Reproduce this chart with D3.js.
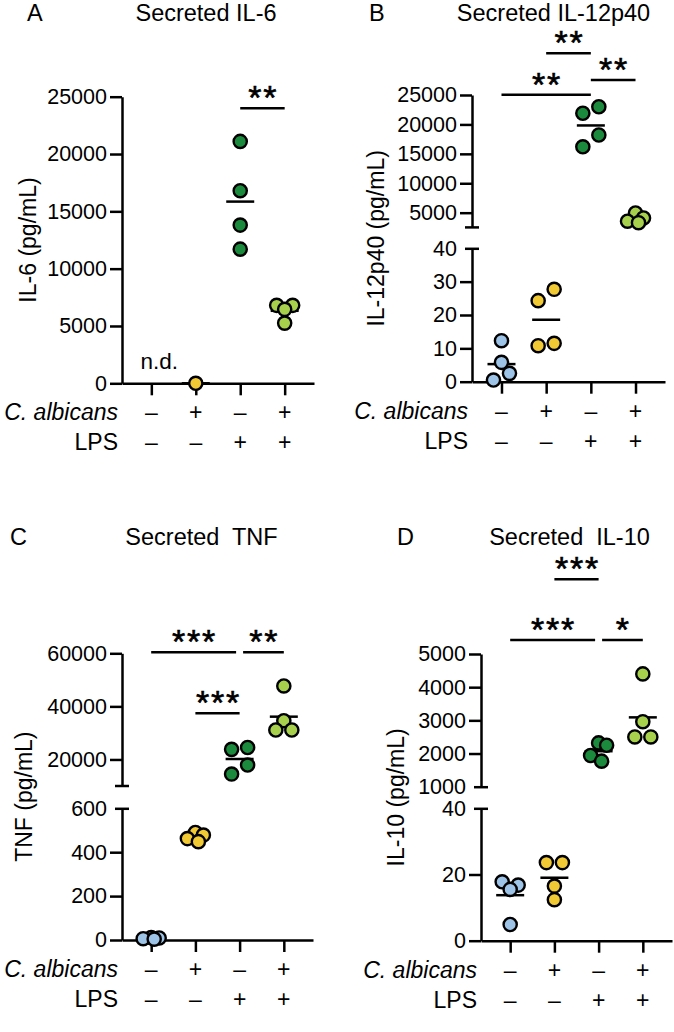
<!DOCTYPE html>
<html>
<head>
<meta charset="utf-8">
<script src="https://cdn.jsdelivr.net/npm/d3@7"></script>
<style>
  body { margin: 0; background: #fff; }
  svg text { font-family: "Liberation Sans", Arial, sans-serif; fill: #000; }
  .tick text { font-size: 21.5px; }
</style>
</head>
<body>
<div id="container"></div>
<script>
/* DATA */
const groups = [0, 1, 2, 3];
const calbRow = ["–", "+", "–", "+"];
const lpsRow = ["–", "–", "+", "+"];
const groupColors = ["#9dc3e6", "#f0c935", "#1b8a3c", "#a7d04c"];

// IL-6
const il6Values = [[], [0], [21100, 16800, 13800, 11700], [6800, 6800, 6450, 5250]];
const il6Segments = [[0, 25000]];
const il6Ticks = [[0, 5000, 10000, 15000, 20000, 25000]];
const il6Sig = [[2, 3, "**", 24000]];

// IL-12p40
const il12Values = [[12.3, 5.8, 2.5, 0.5], [24.3, 27.7, 10.8, 11.5],
                    [23000, 21900, 18200, 16200], [4950, 4100, 3550, 3300]];
const il12Segments = [[0, 40], [2500, 25000]];
const il12Ticks = [[0, 10, 20, 30, 40], [5000, 10000, 15000, 20000, 25000]];
const il12Sig = [[1, 2, "**", 32100], [2, 3, "**", 27550], [0, 2, "**", 25050]];

// TNF
const tnfValues = [[11, 9, 6, 4], [490, 478, 462, 448],
                   [24500, 23800, 17900, 14500], [47700, 34600, 31100, 31100]];
const tnfSegments = [[0, 600], [10000, 60000]];
const tnfTicks = [[0, 200, 400, 600], [20000, 40000, 60000]];
const tnfSig = [[0, 2, "***", 60400], [2, 3, "**", 60400], [1, 2, "***", 37400]];

// IL-10
const il10Values = [[17.8, 16.8, 15.5, 4.9], [23.6, 23.6, 16.5, 12.4],
                    [2320, 2250, 1940, 1770], [4400, 2960, 2500, 2500]];
const il10Segments = [[0, 40], [1000, 5000]];
const il10Ticks = [[0, 20, 40], [1000, 2000, 3000, 4000, 5000]];
const il10Sig = [[1, 2, "***", 7250], [0, 2, "***", 5420], [2, 3, "*", 5420]];

/* LAYOUT */
const panels = [
  { letter: "A", title: "Secreted IL-6", yLabel: "IL-6 (pg/mL)", values: il6Values, segments: il6Segments,
    ticks: il6Ticks, sig: il6Sig, nd: true,
    x0: 122, x1: 314, ranges: [[383.3, 96.7]], titleX: 206, titleY: 21, letterX: 27, labelX: 28 },
  { letter: "B", title: "Secreted IL-12p40", yLabel: "IL-12p40 (pg/mL)", values: il12Values, segments: il12Segments,
    ticks: il12Ticks, sig: il12Sig,
    x0: 472, x1: 665, ranges: [[381.7, 248.3], [227.4, 95]], titleX: 553.5, titleY: 21, letterX: 369, labelX: 376 },
  { letter: "C", title: "Secreted  TNF", yLabel: "TNF (pg/mL)", values: tnfValues, segments: tnfSegments,
    ticks: tnfTicks, sig: tnfSig,
    x0: 122, x1: 313, ranges: [[940, 808.3], [786, 653.3]], titleX: 201.5, titleY: 545, letterX: 10, labelX: 24 },
  { letter: "D", title: "Secreted  IL-10", yLabel: "IL-10 (pg/mL)", values: il10Values, segments: il10Segments,
    ticks: il10Ticks, sig: il10Sig,
    x0: 481, x1: 672, ranges: [[940.7, 808.3], [786.7, 654]], titleX: 569.5, titleY: 545, letterX: 397, labelX: 395.5 }
];

const width = 674, height = 1032;
const r = 6.6, lw = 2.5;

const svg = d3.select("#container").append("svg")
  .attr("width", width)
  .attr("height", height);

// spread points that sit close together (GraphPad-like scatter)
function spread(pys, gap) {
  const order = d3.range(pys.length).sort((a, b) => pys[a] - pys[b]);
  const clusters = [];
  let cur = [];
  order.forEach(i => {
    if (cur.length && pys[i] - pys[cur[cur.length - 1]] >= gap) { clusters.push(cur); cur = []; }
    cur.push(i);
  });
  if (cur.length) clusters.push(cur);
  const off = pys.map(() => 0);
  clusters.forEach(c => {
    let o;
    if (c.length === 1) o = [0];
    else if (c.length === 2) o = [8, -8];
    else if (c.length === 3) o = (pys[c[1]] - pys[c[0]] <= pys[c[2]] - pys[c[1]]) ? [-8, 8, 0] : [0, 8, -8];
    else o = [0, 8, -8, 3];
    c.forEach((i, k) => off[i] = o[k % o.length]);
  });
  return { off, order };
}

panels.forEach(p => {
  const g = svg.append("g");
  const base = p.ranges[0][0];
  const top = p.ranges[p.ranges.length - 1][1];

  /* SCALES */
  const yScales = p.segments.map((d, i) => d3.scaleLinear().domain(d).range(p.ranges[i]));
  const yOf = v => {
    let k = 0;
    p.segments.forEach((d, i) => { if (v >= d[0]) k = i; });
    return yScales[k](v);
  };
  const xScale = d3.scalePoint().domain(groups).range([p.x0, p.x1]).padding(0.66);

  /* AXES */
  yScales.forEach((s, i) => {
    const ax = g.append("g")
      .attr("transform", `translate(${p.x0},0)`)
      .call(d3.axisLeft(s).tickValues(p.ticks[i]).tickSize(12).tickPadding(3).tickSizeOuter(0).tickFormat(d3.format("d")))
      .attr("font-size", null).attr("font-family", null);
    ax.selectAll("path, line").attr("stroke-width", lw);
    if (yScales.length > 1) {
      const lo = s.domain()[0], hi = s.domain()[1];
      // break caps at the segment ends that face the gap
      const capVal = i === 0 ? hi : lo;
      if (p.ticks[i].includes(capVal)) {
        ax.selectAll(".tick").filter(d => d === capVal).select("line").attr("x1", 7).attr("x2", -7);
      } else {
        ax.append("line").attr("x1", -7).attr("x2", 7)
          .attr("y1", s(capVal)).attr("y2", s(capVal))
          .attr("stroke", "#000").attr("stroke-width", lw);
      }
    }
  });

  const xa = g.append("g")
    .attr("transform", `translate(0,${base})`)
    .call(d3.axisBottom(xScale).tickSize(12).tickSizeOuter(0).tickFormat(""));
  xa.selectAll("path, line").attr("stroke-width", lw);

  /* TEXT */
  g.append("text").attr("x", p.letterX).attr("y", p.titleY).style("font-size", "23.5px").text(p.letter);
  g.append("text").attr("x", p.titleX).attr("y", p.titleY).attr("text-anchor", "middle")
    .style("font-size", "23.5px").style("white-space", "pre").text(p.title);

  g.append("text")
    .attr("transform", `translate(${p.labelX + 8},${(base + top) / 2}) rotate(-90)`)
    .attr("text-anchor", "middle").style("font-size", "23px").text(p.yLabel);

  g.append("text").attr("x", p.x0 - 4).attr("y", base + 37).attr("text-anchor", "end")
    .style("font-size", "23px").style("font-style", "italic").text("C. albicans");
  g.append("text").attr("x", p.x0 - 4).attr("y", base + 67).attr("text-anchor", "end")
    .style("font-size", "23px").text("LPS");
  g.selectAll("text.calb").data(calbRow).join("text").attr("class", "calb")
    .attr("x", (d, i) => xScale(i)).attr("y", base + 37).attr("text-anchor", "middle")
    .style("font-size", "23px").text(d => d);
  g.selectAll("text.lps").data(lpsRow).join("text").attr("class", "lps")
    .attr("x", (d, i) => xScale(i)).attr("y", base + 67).attr("text-anchor", "middle")
    .style("font-size", "23px").text(d => d);

  if (p.nd) {
    g.append("text").attr("x", xScale(0) + 8).attr("y", base - 14).attr("text-anchor", "middle")
      .style("font-size", "22.5px").text("n.d.");
  }

  /* SIGNIFICANCE */
  const topScale = yScales[yScales.length - 1];
  p.sig.forEach(([a, b, stars, lvl]) => {
    let xa1 = xScale(a), xb1 = xScale(b);
    p.sig.forEach(o => {
      if (o[3] !== lvl) return;
      if (o[0] === b) xb1 -= 3.5;
      if (o[1] === a) xa1 += 3.5;
    });
    const yb = topScale(lvl);
    g.append("line").attr("x1", xa1).attr("x2", xb1).attr("y1", yb).attr("y2", yb)
      .attr("stroke", "#000").attr("stroke-width", lw);
    const cx = (xa1 + xb1) / 2;
    const n = stars.length;
    g.selectAll(null).data(d3.range(n)).join("text")
      .attr("x", k => cx + (k - (n - 1) / 2) * 15)
      .attr("y", yb + 1)
      .attr("text-anchor", "middle")
      .style("font-size", "34px")
      .attr("stroke", "#000")
      .attr("stroke-width", 0.6)
      .text("*");
  });

  /* POINTS */
  p.values.forEach((vals, gi) => {
    if (!vals.length) return;
    const cx = xScale(gi);
    const m = d3.mean(vals);
    g.append("line").attr("x1", cx - 14).attr("x2", cx + 14)
      .attr("y1", yOf(m)).attr("y2", yOf(m))
      .attr("stroke", "#000").attr("stroke-width", lw);
    const pys = vals.map(yOf);
    const { off, order } = spread(pys, 12);
    g.selectAll(null).data(order).join("circle")
      .attr("cx", i => cx + off[i])
      .attr("cy", i => pys[i])
      .attr("r", r)
      .attr("fill", groupColors[gi])
      .attr("stroke", "#000")
      .attr("stroke-width", 2.4);
  });
});
</script>
</body>
</html>
